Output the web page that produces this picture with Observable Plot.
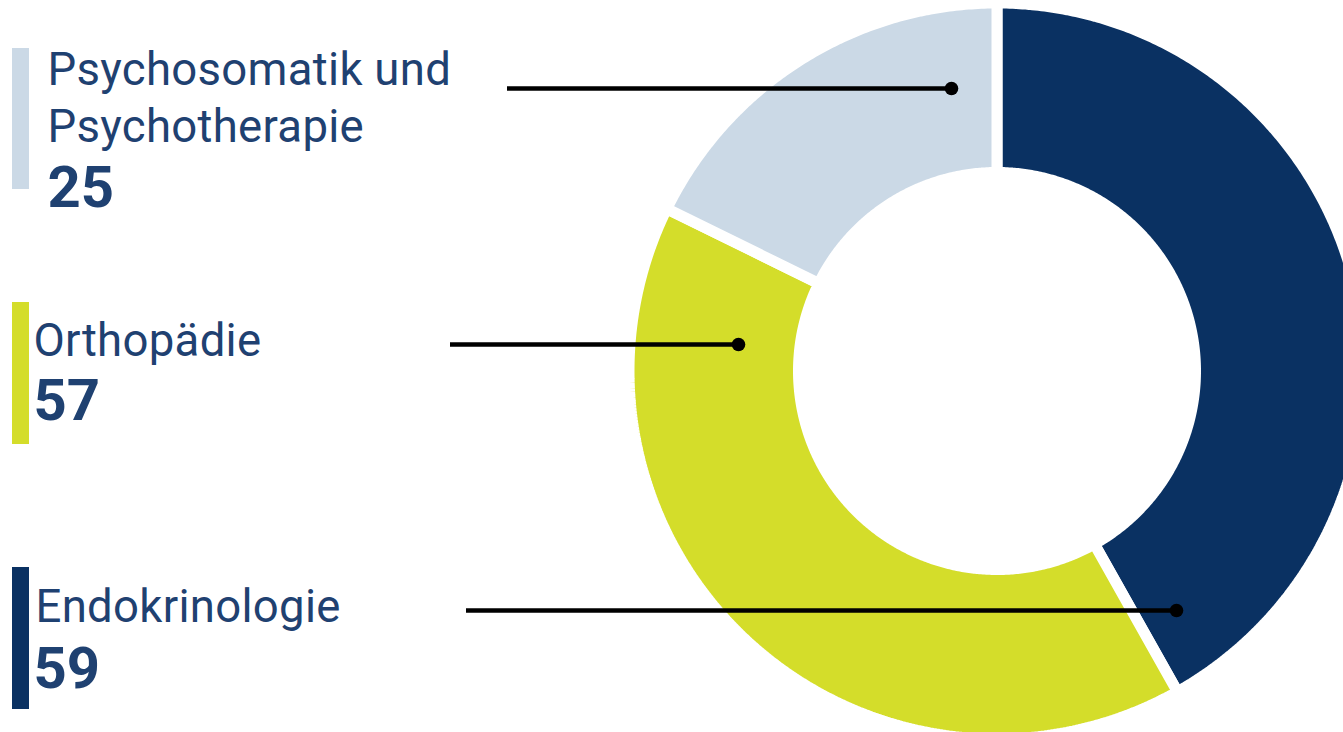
<!DOCTYPE html>
<html><head><meta charset="utf-8">
<script src="https://cdn.jsdelivr.net/npm/d3@7"></script>
<script src="https://cdn.jsdelivr.net/npm/@observablehq/plot@0.6"></script>
<style>
html,body{margin:0;padding:0;background:#fff;overflow:hidden}
</style></head><body><div id="chart"></div>
<script>
// ---- data ----
const categories = ["Endokrinologie", "Orthopädie", "Psychosomatik und Psychotherapie"];
const labelLines = ["Endokrinologie", "Orthopädie", "Psychosomatik und\nPsychotherapie"];
const values = [59, 57, 25];
const colors = ["#0a3162", "#d4dd2a", "#cbd9e6"];

// ---- layout ----
const W = 1343, H = 732;
const cx = 996.5, cy = 370.5, rOuter = 362.5, rInner = 204, gap = 11;
const leaderY = [610, 344, 88], leaderX1 = [466, 450, 507], leaderX2 = [1176, 738, 951];
const barX1 = 12, barX2 = 29, barY1 = [567, 302, 48], barY2 = [709, 444, 189];
const labelX = [35, 33, 47], labelY = [580, 314, 43];
const numX = [33, 33, 47], numY = [646, 378, 165];
const textColor = "#1f4171";

// donut polygons computed from values
const total = d3.sum(values);
let acc = 0;
const arcPts = [];
categories.forEach((c, i) => {
  const a0 = acc / total * 2 * Math.PI; acc += values[i]; const a1 = acc / total * 2 * Math.PI;
  const ro = rOuter + gap / 2, ri = rInner - gap / 2;
  const n = Math.ceil((a1 - a0) / (Math.PI / 360));
  const pts = [];
  for (let k = 0; k <= n; k++) { const a = a0 + (a1 - a0) * k / n; pts.push([cx + ro * Math.sin(a), cy - ro * Math.cos(a)]); }
  for (let k = n; k >= 0; k--) { const a = a0 + (a1 - a0) * k / n; pts.push([cx + ri * Math.sin(a), cy - ri * Math.cos(a)]); }
  pts.push(pts[0]);
  pts.forEach(p => arcPts.push({cat: c, x: p[0], y: p[1]}));
});

const idx = categories.map((c, i) => i);

const plot = Plot.plot({
  width: W, height: H, margin: 0,
  x: {domain: [0, W], range: [0, W], axis: null},
  y: {domain: [0, H], range: [0, H], axis: null},
  color: {domain: categories, range: colors},
  style: {fontFamily: "Roboto, sans-serif", background: "#fff"},
  marks: [
    Plot.line(arcPts, {x: "x", y: "y", z: "cat", fill: "cat", stroke: "white", strokeWidth: gap, strokeLinejoin: "miter"}),
    Plot.rect(idx, {x1: () => barX1, x2: () => barX2, y1: i => barY1[i], y2: i => barY2[i], fill: i => categories[i]}),
    Plot.ruleY(idx, {y: i => leaderY[i], x1: i => leaderX1[i], x2: i => leaderX2[i], stroke: "black", strokeWidth: 4.5}),
    Plot.dot(idx, {x: i => leaderX2[i], y: i => leaderY[i], r: 6.8, fill: "black"}),
    Plot.text(idx, {x: i => labelX[i], y: i => labelY[i], text: i => labelLines[i], textAnchor: "start", lineAnchor: "top", lineHeight: 1.27, fontSize: 45.5, fill: textColor}),
    Plot.text(idx, {x: i => numX[i], y: i => numY[i], text: i => String(values[i]), textAnchor: "start", lineAnchor: "top", fontSize: 58, fontWeight: "bold", fill: textColor})
  ]
});
plot.querySelectorAll("text").forEach(t => { if (!/^\d+$/.test(t.textContent.trim())) t.style.letterSpacing = "0.3px"; });
document.getElementById("chart").append(plot);
</script></body></html>
